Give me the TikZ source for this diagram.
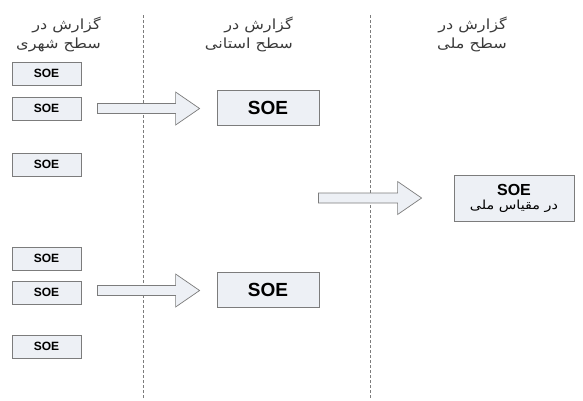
\documentclass[tikz,border=0pt]{standalone}
\usepackage{fontspec}
\setmainfont{Liberation Sans}
\newfontfamily\arabicfont[Script=Arabic, FakeStretch=1.15]{DejaVu Sans}
\TeXXeTstate=1
\usepackage{tikz}
\usetikzlibrary{
  positioning,
  calc,
  }

\definecolor{boxfill}{HTML}{EDF0F5}
\definecolor{boxline}{HTML}{7C7C7C}
\definecolor{headtext}{HTML}{3A3A3A}

\begin{document}
\begin{tikzpicture}[x=1pt, y=-1pt,
    every node/.style={inner sep=0pt},
    soe/.style={draw=boxline, fill=boxfill, line width=0.8pt},
    city/.style={soe, minimum width=69pt, minimum height=23pt, font=\bfseries\fontsize{12}{14}\selectfont},
    prov/.style={soe, minimum width=102pt, minimum height=35pt, font=\bfseries\fontsize{19}{22}\selectfont},
    head/.style={align=right, anchor=north east, text=headtext, font=\arabicfont\fontsize{14}{19}\selectfont},
    sep/.style={draw=boxline, line width=0.8pt, dash pattern=on 3pt off 2pt},
    fatarrow/.style={draw=boxline, fill=boxfill, line width=0.7pt,
      to path={let \p1=(\tikztostart), \p2=(\tikztotarget) in
        (\x1,\y1-5) -- (\x2-24,\y1-5) -- (\x2-24,\y1-16.5) -- (\x2,\y1)
        -- (\x2-24,\y1+16.5) -- (\x2-24,\y1+5) -- (\x1,\y1+5) -- cycle}},
  ]
  \useasboundingbox (0,0) rectangle (583,400);

  % column titles
  \node[head] (h1) at (101,17) {\beginR گزارش در\endR\\\beginR سطح شهری\endR};
  \node[head] (h2) at (293,17) {\beginR گزارش در\endR\\\beginR سطح استانی\endR};
  \node[head] (h3) at (507,17) {\beginR گزارش در\endR\\\beginR سطح ملی\endR};

  \draw[sep] (143,15) -- (143,398);
  \draw[sep] (370,15) -- (370,398);

  % city level
  \node[city] (s1) at (46.5,73.5) {SOE};
  \node[city] (s2) at (46.5,108.5) {SOE};
  \node[city] (s3) at (46.5,164.5) {SOE};
  \node[city] (s4) at (46.5,258.5) {SOE};
  \node[city] (s5) at (46.5,292.5) {SOE};
  \node[city] (s6) at (46.5,346.5) {SOE};

  % province level
  \node[prov] (p1) at (268,107.5) {SOE};
  \node[prov] (p2) at (268,290) {SOE};

  % national level
  \node[soe, minimum width=120pt, minimum height=46pt, align=center] (n1) at (514,198)
    {{\bfseries\fontsize{16}{18}\selectfont SOE}\\[2pt]{\arabicfont\fontsize{12.5}{15}\selectfont\beginR در مقیاس ملی\endR}};

  \coordinate (a1s) at ($(s2.east)+(16,0)$);
  \coordinate (a1e) at ($(p1.west)+(-17,0)$);
  \coordinate (a2s) at ($(s5.east)+(16,-2)$);
  \coordinate (a2e) at ($(p2.west)+(-17,0)$);
  \coordinate (a3s) at ($(p1.east |- n1.west)+(-1,0)$);
  \coordinate (a3e) at ($(n1.west)+(-32,0)$);

  \draw[fatarrow] (a1s) to (a1e);
  \draw[fatarrow] (a2s) to (a2e);
  \draw[fatarrow] (a3s) to (a3e);
\end{tikzpicture}
\end{document}
